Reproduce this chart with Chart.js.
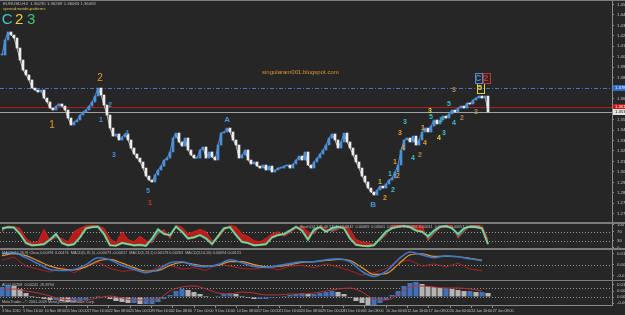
<!DOCTYPE html>
<html>
<head>
<meta charset="utf-8">
<script src="https://cdn.jsdelivr.net/npm/chart.js@4.4.0/dist/chart.umd.min.js"></script>
<style>
body{margin:0;background:#262626;width:625px;height:315px;overflow:hidden;position:relative}
.pane{position:absolute;left:0;width:625px}
</style>
</head>
<body>
<div class="pane" style="top:0;height:222px"><canvas id="main" width="625" height="222"></canvas></div>
<div class="pane" style="top:224px;height:24px"><canvas id="osc" width="625" height="24"></canvas></div>
<div class="pane" style="top:250px;height:30px"><canvas id="macd" width="625" height="30"></canvas></div>
<div class="pane" style="top:281px;height:34px"><canvas id="ao" width="625" height="34"></canvas></div>
<div class="pane" style="top:0;height:315px;pointer-events:none"><canvas id="over" width="625" height="315"></canvas></div>
<script>
// EURUSD H4, 3 Nov 2010 - 28 Jan 2011 (x in H4 bars)
const priceStep = 2.25;
const prices = [
1.4065,1.4194,1.4263,1.4237,1.4211,1.4125,1.4022,1.3936,1.3893,1.3850,
1.3781,1.3764,1.3747,1.3764,1.3695,1.3661,1.3609,1.3592,1.3626,1.3644,
1.3626,1.3592,1.3523,1.3463,1.3489,1.3506,1.3549,1.3575,1.3592,1.3626,
1.3661,1.3712,1.3781,1.3721,1.3635,1.3549,1.3437,1.3368,1.3386,1.3334,
1.3360,1.3386,1.3334,1.3265,1.3214,1.3179,1.3145,1.3093,1.3024,1.2990,
1.2973,1.3033,1.3076,1.3110,1.3162,1.3179,1.3231,1.3351,1.3394,1.3317,
1.3282,1.3351,1.3248,1.3205,1.3179,1.3179,1.3248,1.3274,1.3179,1.3231,
1.3188,1.3162,1.3291,1.3394,1.3403,1.3437,1.3403,1.3334,1.3291,1.3179,
1.3205,1.3248,1.3162,1.3128,1.3145,1.3110,1.3093,1.3119,1.3076,1.3110,
1.3059,1.3076,1.3093,1.3093,1.3110,1.3119,1.3093,1.3128,1.3162,1.3196,
1.3162,1.3231,1.3119,1.3093,1.3145,1.3179,1.3214,1.3248,1.3291,1.3351,
1.3386,1.3334,1.3265,1.3317,1.3394,1.3317,1.3265,1.3205,1.3145,1.3093,
1.3024,1.2973,1.2921,1.2887,1.2861,1.2904,1.2938,1.2921,1.2956,1.2990,
1.3007,1.3059,1.3119,1.3248,1.3334,1.3351,1.3317,1.3368,1.3291,1.3334,
1.3403,1.3437,1.3403,1.3454,1.3506,1.3472,1.3506,1.3540,1.3523,1.3558,
1.3592,1.3575,1.3609,1.3626,1.3609,1.3652,1.3644,1.3678,1.3695,1.3712,
1.3695,1.3712,1.3575
];
const priceTicks = [1.2700,1.2790,1.2880,1.2970,1.3060,1.3150,1.3240,1.3330,1.3420,1.3510,
  1.3600,1.3690,1.3780,1.3870,1.3960,1.4050,1.4140,1.4230,1.4320,1.4410,1.4500];

// horizontal levels on the price chart
const levelPrices = [1.3781, 1.3618, 1.3575];
const levelColors = ['#3a78c8', '#a82020', '#a0a0a0'];
const levelBoxText = ['#ffffff', '#ffffff', '#000000'];
const levelBoxFill = ['#2d6cc8', '#c81818', '#e6e6e6'];

// wave counts
const waveText  = ['C','2','3','2','1','2','1','3','4','5','1','A','B','1','2','1','2','1','2','3','4','3','4','2','1','4','3','5','4','1','3','5','4','3','2','3','5','C','2'];
const waveBar   = [3.8,12.8,21.8,73.5,37.5,81,74.3,84,93.8,109.5,111,168.8,278.3,283.5,287.3,291,293.3,294.8,297,298.5,300.8,302.3,308.3,313.5,315.8,317.3,321,321.8,327.8,329.3,331.5,335.3,339,339,345,355.5,358.5,357,363];
const wavePrice = [1.4366,1.4366,1.4366,1.3867,1.3463,1.3635,1.3506,1.3205,1.3394,1.2895,1.2792,1.3506,1.2775,1.2973,1.2835,1.3042,1.2904,1.3145,1.3024,1.3394,1.3265,1.3489,1.3179,1.3205,1.3437,1.3308,1.3583,1.3532,1.3351,1.3506,1.3394,1.3644,1.3480,1.3764,1.3523,1.3575,1.3781,1.3867,1.3867];
const waveColor = ['#3fc9c9','#e6d23c','#3cc878','#e09a2a','#e09a2a','#4a8fd8','#4a8fd8','#4a8fd8','#4a8fd8','#4a8fd8','#c8322c','#4a8fd8','#4a8fd8','#c8b040','#e09a2a','#3cc0c0','#3cc0c0','#e09a2a','#e09a2a','#e09a2a','#e09a2a','#3cc0c0','#3cc0c0','#b08a50','#e0b040','#e09a2a','#e6d23c','#3cc0c0','#e6d23c','#3cc0c0','#3cc0c0','#3cc0c0','#3cc0c0','#b08a50','#b08a50','#b08a50','#e6d23c','#4a8fd8','#c8322c'];
const waveSize  = [15,15,15,10,10,7,7,7,7,7,8,8,8,7,7,7,7,7,7,7,7,7,7,7,7,7,7,7,7,7,7,7,7,7,7,7,8,9,9];
const waveBoxed = [36,37,38];

// stochastic panel
const oscStep = 4.5;
const oscMain = [
85,90,88,60,20,10,12,15,35,60,
20,10,15,45,85,90,92,60,10,8,
20,15,10,12,8,40,80,60,55,92,
70,40,45,55,40,15,50,85,90,55,
25,20,10,12,15,45,55,60,75,92,
75,35,80,90,70,85,92,85,40,12,
8,6,10,40,70,85,92,95,90,75,
70,50,75,92,95,85,60,85,92,90,
85,15];
const oscRed = [
70,95,92,85,40,20,25,80,30,45,
40,25,70,85,95,98,95,85,40,20,
70,35,25,50,30,20,60,80,40,98,
90,60,70,80,70,30,40,75,98,92,
60,50,30,25,40,60,70,50,65,85,
95,70,60,95,85,70,80,95,80,35,
25,20,15,30,55,98,98,99,95,96,
98,30,60,85,98,97,40,70,96,97,
95,40];
const oscLevels = [70, 30];
const oscTicks = [100, 70, 30, 0];

// MACD panel
const macdStep = 9;
const macdBlue = [0.0143,0.0156,0.0091,0.0013,-0.0065,-0.0078,-0.0065,0,0.0091,0.0065,-0.0013,-0.0065,-0.0104,-0.0065,0.0026,0.0039,-0.0013,-0.0026,0,0.0065,0.0026,-0.0026,-0.0039,-0.0013,0.0013,0.0039,0.0039,0.0065,0.0078,0.0039,-0.0091,-0.0156,-0.0091,0.0065,0.0169,0.0130,0.0091,0.0117,0.0104,0.0078,0.0052];
const macdOrange = [0.0120,0.0145,0.0120,0.0050,-0.0020,-0.0060,-0.0070,-0.0030,0.0050,0.0070,0.0020,-0.0040,-0.0085,-0.0080,-0.0010,0.0030,0.0005,-0.0020,-0.0010,0.0040,0.0040,0.0000,-0.0030,-0.0025,0.0000,0.0030,0.0040,0.0055,0.0070,0.0055,-0.0040,-0.0130,-0.0120,0.0000,0.0130,0.0145,0.0110,0.0110,0.0105,0.0085,0.0060];
const macdRed = [0.0060,0.0100,-0.0020,-0.0060,-0.0100,-0.0040,-0.0110,-0.0020,0.0030,-0.0050,-0.0090,-0.0070,-0.0120,-0.0030,-0.0010,-0.0060,-0.0040,-0.0080,0.0010,-0.0020,-0.0050,-0.0060,-0.0030,-0.0070,-0.0020,-0.0010,-0.0040,0.0010,-0.0030,-0.0080,-0.0140,-0.0110,-0.0050,0.0040,0.0060,-0.0020,0.0010,-0.0030,0.0020,-0.0060,-0.0080];
const macdTicks = [0.0150, 0, -0.0150];

// AO panel
const aoValues = [
0.010,0.012,0.011,0.008,0.004,0.001,-0.001,-0.002,-0.003,-0.003,
-0.004,-0.005,-0.005,-0.004,-0.003,-0.001,0.001,0.000,-0.002,-0.004,
-0.005,-0.006,-0.006,-0.007,-0.007,-0.007,-0.005,-0.002,0.002,0.006,
0.008,0.007,0.005,0.003,0.001,0.000,0.001,0.003,0.004,0.003,
0.001,-0.001,-0.002,-0.002,-0.002,-0.001,0.000,0.001,0.002,0.003,
0.004,0.003,0.003,0.004,0.005,0.006,0.005,0.003,-0.001,-0.004,
-0.006,-0.008,-0.008,-0.006,-0.003,0.002,0.006,0.011,0.014,0.015,
0.013,0.011,0.010,0.009,0.009,0.008,0.007,0.006,0.006,0.005,
0.005,0.004];
const aoLine = [0.007,0.008,0.006,0.004,0.001,-0.002,-0.003,-0.003,-0.001,0.001,-0.001,-0.003,-0.003,-0.002,0.006,0.010,0.011,0.008,0.004,0.003,0.005,0.004,0.002,0.002,0.003,0.003,0.004,0.006,0.008,0.009,0.005,-0.002,-0.003,0.002,0.010,0.011,0.010,0.009,0.009,0.008,0.006];
const aoTicks = [0.0120, 0.0060, 0, -0.0060];

// time axis
const timeStep = 16;
const timeLabels = ['3 Nov 2010','5 Nov 16:00','10 Nov 08:00','15 Nov 00:00','17 Nov 16:00','22 Nov 08:00',
  '25 Nov 00:00','29 Nov 16:00','2 Dec 08:00','7 Dec 00:00','9 Dec 16:00','14 Dec 08:00','17 Dec 00:00',
  '21 Dec 16:00','24 Dec 08:00','29 Dec 00:00','31 Dec 16:00','5 Jan 08:00','10 Jan 00:00','12 Jan 16:00',
  '17 Jan 08:00','20 Jan 00:00','24 Jan 16:00','27 Jan 08:00'];

const X_MIN = -1.5, X_MAX = 457.5;
const FONT = '"Liberation Sans", Arial, sans-serif';
const UP = '#4a90dc', DOWN = '#ececec';
Chart.defaults.font.family = FONT;
Chart.defaults.animation = false;

const pts = (arr, step) => arr.map((v, i) => ({x: i * step, y: v}));

function levelsPlugin(values, color, dash) {
  return {
    id: 'levels',
    beforeDatasetsDraw(chart) {
      const {ctx, chartArea, scales: {y}} = chart;
      ctx.save();
      ctx.strokeStyle = color;
      ctx.lineWidth = 1;
      ctx.setLineDash(dash);
      values.forEach(v => {
        const py = Math.round(y.getPixelForValue(v)) + 0.5;
        ctx.beginPath(); ctx.moveTo(chartArea.left, py); ctx.lineTo(chartArea.right, py); ctx.stroke();
      });
      ctx.restore();
    }
  };
}

function yAxis(min, max, ticks, fmt) {
  return {
    position: 'right', min: min, max: max,
    afterBuildTicks: s => { s.ticks = ticks.map(v => ({value: v})); },
    afterFit: s => { s.width = 13; s.paddingTop = 0; s.paddingBottom = 0; },
    ticks: {color: '#c4c4c4', font: {size: 4.3}, padding: 3, callback: fmt, autoSkip: false},
    grid: {display: true, drawOnChartArea: false, tickLength: 2, color: '#8a8a8a'},
    border: {display: true, color: '#8a8a8a', width: 1}
  };
}
const xHidden = {type: 'linear', min: X_MIN, max: X_MAX, offset: false, display: false};

function baseOptions(scales, plugins) {
  return {
    responsive: false, devicePixelRatio: 1, animation: false,
    layout: {padding: 0},
    events: [],
    plugins: Object.assign({legend: {display: false}, tooltip: {enabled: false}}, plugins || {}),
    scales: scales,
    elements: {point: {radius: 0}}
  };
}

// ---------- main price chart ----------
const mainPlugin = {
  id: 'mainDeco',
  beforeDatasetsDraw(chart) {
    const {ctx, chartArea, scales: {y}} = chart;
    ctx.save();
    levelPrices.forEach((p, i) => {
      const py = Math.round(y.getPixelForValue(p)) + 0.5;
      ctx.strokeStyle = levelColors[i];
      ctx.lineWidth = 1;
      ctx.setLineDash(i === 0 ? [4, 2, 1, 2] : []);
      ctx.beginPath(); ctx.moveTo(chartArea.left, py); ctx.lineTo(chartArea.right, py); ctx.stroke();
    });
    ctx.restore();
  },
  afterDraw(chart) {
    const {ctx, chartArea, scales: {x, y}} = chart;
    ctx.save();
    // price boxes on the axis
    ctx.font = '4.3px ' + FONT;
    ctx.textBaseline = 'middle';
    levelPrices.forEach((p, i) => {
      const py = Math.round(y.getPixelForValue(p));
      ctx.fillStyle = levelBoxFill[i];
      ctx.fillRect(chartArea.right + 1, py - 3, 14, 6);
      ctx.fillStyle = levelBoxText[i];
      ctx.textAlign = 'left';
      ctx.fillText(p.toFixed(5), chartArea.right + 3, py);
    });
    // wave labels
    ctx.textAlign = 'center';
    waveText.forEach((t, i) => {
      const px = x.getPixelForValue(waveBar[i]);
      const py = y.getPixelForValue(wavePrice[i]);
      ctx.font = (waveSize[i] >= 10 ? '' : 'bold ') + waveSize[i] + 'px ' + FONT;
      if (waveBoxed.includes(i)) {
        ctx.strokeStyle = waveColor[i];
        ctx.lineWidth = 1;
        ctx.strokeRect(Math.round(px - 3.5) + 0.5, Math.round(py - 5) + 0.5, 7, 10);
      }
      ctx.fillStyle = waveColor[i];
      ctx.fillText(t, px, py);
    });
    ctx.restore();
  }
};

// candle bodies from the previous close to the close
const bodies = prices.map((p, i) => ({x: i * priceStep, y: [i ? prices[i - 1] : p, p]}));
const bodyColors = prices.map((p, i) => (i && p < prices[i - 1]) ? DOWN : UP);

new Chart(document.getElementById('main'), {
  type: 'bar',
  data: {
    datasets: [
      {type: 'bar', data: bodies, backgroundColor: bodyColors, barThickness: 2, minBarLength: 1},
      {type: 'line', data: pts(prices, priceStep), borderWidth: 1, borderColor: '#9aa4ae',
       segment: {borderColor: c => c.p1.parsed.y >= c.p0.parsed.y ? '#5e8fc4' : '#b8b8b8'}, tension: 0}
    ]
  },
  options: baseOptions({
    x: xHidden,
    y: yAxis(1.2629, 1.4538, priceTicks, v => v.toFixed(5))
  }),
  plugins: [mainPlugin]
});

// ---------- stochastic ----------
new Chart(document.getElementById('osc'), {
  type: 'line',
  data: {
    datasets: [
      {data: pts(oscMain, oscStep), borderColor: '#e8cc48', borderWidth: 0.8},
      {data: pts(oscMain, oscStep), borderColor: '#3ec4b4', borderWidth: 2.2},
      {data: pts(oscRed, oscStep), borderColor: '#d82020', borderWidth: 1,
       fill: {target: 1, above: 'rgba(200,28,24,0.9)', below: 'rgba(46,150,140,0.85)'}}
    ]
  },
  options: baseOptions({
    x: xHidden,
    y: yAxis(-2, 104, oscTicks, v => String(v))
  }),
  plugins: [levelsPlugin(oscLevels, '#9a9a9a', [1, 2])]
});

// ---------- MACD ----------
new Chart(document.getElementById('macd'), {
  type: 'line',
  data: {
    datasets: [
      {data: pts(macdBlue, macdStep), borderColor: '#3a78cc', borderWidth: 1.6, cubicInterpolationMode: 'monotone'},
      {data: pts(macdOrange, macdStep), borderColor: '#e39330', borderWidth: 1.2, cubicInterpolationMode: 'monotone'},
      {data: pts(macdRed, macdStep), borderColor: '#b82020', borderWidth: 0.9}
    ]
  },
  options: baseOptions({
    x: xHidden,
    y: yAxis(-0.0205, 0.0195, macdTicks, v => v === 0 ? '0.00' : v.toFixed(4))
  }),
  plugins: [levelsPlugin([0], '#9a9a9a', [1, 2])]
});

// ---------- AO + time axis ----------
const aoColors = aoValues.map((v, i) => i > 0 && v < aoValues[i - 1] ? '#b4b4b4' : '#3f72b8');
new Chart(document.getElementById('ao'), {
  type: 'bar',
  data: {
    datasets: [
      {type: 'line', data: pts(aoLine, macdStep), borderColor: '#b83232', borderWidth: 1, cubicInterpolationMode: 'monotone'},
      {type: 'bar', data: pts(aoValues, oscStep), backgroundColor: aoColors, barPercentage: 0.85, categoryPercentage: 1}
    ]
  },
  options: baseOptions({
    x: {
      type: 'linear', min: X_MIN, max: X_MAX, offset: false, position: 'bottom',
      afterBuildTicks: s => { s.ticks = timeLabels.map((t, i) => ({value: i * timeStep})); },
      afterFit: s => { s.height = 10; s.paddingLeft = 0; s.paddingRight = 0; },
      ticks: {color: '#c4c4c4', font: {size: 3.6}, align: 'start', maxRotation: 0, minRotation: 0,
              autoSkip: false, padding: 1, callback: (v, i) => timeLabels[i]},
      grid: {display: true, drawOnChartArea: false, offset: false, tickLength: 3, color: '#8a8a8a'},
      border: {display: true, color: '#8a8a8a'}
    },
    y: yAxis(-0.008, 0.016, aoTicks, v => v === 0 ? '0.00' : v.toFixed(4))
  }),
  plugins: [levelsPlugin([0, 0.009], '#9a9a9a', [1, 2])]
});

// ---------- frames and header texts ----------
const o = document.getElementById('over').getContext('2d');
o.fillStyle = '#7c7c7c';
o.fillRect(0, 222, 625, 2);
o.fillRect(0, 248, 625, 2);
o.fillRect(0, 280, 625, 1);
o.fillRect(0, 0, 625, 1);
o.textBaseline = 'middle';
o.textAlign = 'left';
function txt(t, x, y, c, s) { o.font = s + 'px ' + FONT; o.fillStyle = c; o.fillText(t, x, y); }
txt('EURUSD,H4  1.36235 1.36269 1.36063 1.36082', 3, 4, '#bdbdbd', 4.3);
txt('spread:=wide-patterns', 3, 9, '#d6c24a', 4.3);
txt('singularam001.blogspot.com', 262, 72, '#d8962c', 6);
txt('Stoch(14,3,3) 46.5301  52.6842  0.00069  0.00041  0.00020  0.00084  0.00031  0.00102  0.00057  0.00040', 300, 227, '#bdbdbd', 3.8);
txt('MACD(12,26,9) Close,0.00391 0.00474  MACD(5,35,5) -0.00073 -0.00017  MACD(5,13,1) 0.00178 0.00263  MACD(3,10,16) 0.00094 0.00121', 2, 253, '#bdbdbd', 3.8);
txt('AO 0.00268  0.00241  26.8794', 2, 285, '#bdbdbd', 3.8);
txt('MetaTrader - \u00a9 2001-2009 MetaQuotes Software Corp.', 2, 302, '#bdbdbd', 3.8);
</script>
</body>
</html>
